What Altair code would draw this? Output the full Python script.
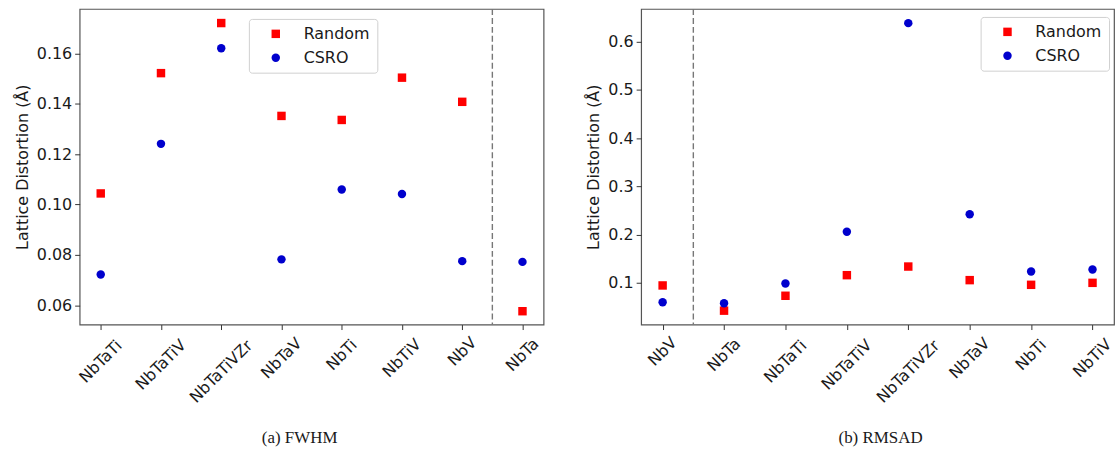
import altair as alt
import pandas as pd

# FWHM panel
cats_a = ["NbTaTi", "NbTaTiV", "NbTaTiVZr", "NbTaV", "NbTi", "NbTiV", "NbV", "NbTa"]
random_a = [0.1044, 0.1522, 0.1721, 0.1352, 0.1336, 0.1504, 0.1408, 0.0576]
csro_a = [0.0722, 0.1241, 0.1621, 0.0782, 0.1060, 0.1042, 0.0775, 0.0772]
yticks_a = [0.06, 0.08, 0.10, 0.12, 0.14, 0.16]

# RMSAD panel
cats_b = ["NbV", "NbTa", "NbTaTi", "NbTaTiV", "NbTaTiVZr", "NbTaV", "NbTi", "NbTiV"]
random_b = [0.0946, 0.0423, 0.0732, 0.1159, 0.1338, 0.1056, 0.0959, 0.1000]
csro_b = [0.0596, 0.0575, 0.0988, 0.2059, 0.6386, 0.2422, 0.1235, 0.1276]
yticks_b = [0.1, 0.2, 0.3, 0.4, 0.5, 0.6]

series = ["Random", "CSRO"]
colors = ["#ff0000", "#0000cd"]
shapes = ["square", "circle"]

FONT = "DejaVu Sans"
TEXT = "#1a1a1a"
H = 317


def panel(cats, rnd, csro, ydom, yticks, yfmt, divider, lx, ly, width, caption, cap_dx):
    rows = []
    for i, c in enumerate(cats):
        rows.append({"cat": c, "idx": i, "series": "Random", "value": rnd[i]})
        rows.append({"cat": c, "idx": i, "series": "CSRO", "value": csro[i]})
    df = pd.DataFrame(rows)
    xscale = alt.Scale(domain=[-0.35, len(cats) - 0.65], nice=False, zero=False)
    xaxis = alt.Axis(values=list(range(len(cats))), labels=False, title=None,
                     grid=False, domain=False, tickSize=5, tickColor="#333333")

    legend = alt.Legend(title=None, orient="none", legendX=lx, legendY=ly,
                        fillColor="white", strokeColor="#d0d0d0", cornerRadius=3,
                        padding=7, labelFont=FONT, labelFontSize=16, labelColor=TEXT,
                        symbolSize=72, symbolOffset=12, labelOffset=20,
                        rowPadding=8, symbolStrokeWidth=0, labelLimit=200)

    pts = alt.Chart(df).mark_point(filled=True, size=72, opacity=1).encode(
        x=alt.X("idx:Q", scale=xscale, axis=xaxis),
        y=alt.Y("value:Q",
                scale=alt.Scale(domain=ydom, nice=False, zero=False),
                axis=alt.Axis(values=yticks, format=yfmt, grid=False, domain=False,
                              tickSize=5, tickColor="#333333",
                              labelFont=FONT, labelFontSize=16, labelColor=TEXT,
                              labelPadding=3, title="Lattice Distortion (Å)",
                              titleFont=FONT, titleFontSize=16,
                              titleFontWeight="normal", titleColor=TEXT,
                              titlePadding=6)),
        color=alt.Color("series:N", scale=alt.Scale(domain=series, range=colors),
                        legend=legend),
        shape=alt.Shape("series:N", scale=alt.Scale(domain=series, range=shapes),
                        legend=legend),
    )

    rule = alt.Chart(pd.DataFrame({"d": [divider]})).mark_rule(
        color="#777777", strokeWidth=1.4, strokeDash=[6, 3]
    ).encode(x=alt.X("d:Q", scale=xscale))

    # rotated category labels, centred under each tick
    labels = alt.Chart(pd.DataFrame({"cat": cats, "idx": list(range(len(cats)))})).transform_calculate(
        ly=f"{H} + 12 + (length(datum.cat) * 9.4 + 15) * 0.3536"
    ).mark_text(angle=315, align="center", baseline="middle", font=FONT,
                fontSize=16, color=TEXT).encode(
        x=alt.X("idx:Q", scale=xscale),
        y=alt.Y("ly:Q", scale=None, axis=None),
        text="cat:N",
    )

    return alt.layer(pts, rule, labels).resolve_scale(y="independent").properties(
        width=width, height=H,
        title=alt.TitleParams(caption, orient="bottom", anchor="middle",
                              font="Liberation Serif", fontSize=17,
                              fontWeight="normal", color=TEXT, dx=cap_dx, offset=24),
    )


left = panel(cats_a, random_a, csro_a, [0.0523, 0.1777], yticks_a, ".2f",
             6.5, 170, 10, 466, "(a) FWHM", -12)
right = panel(cats_b, random_b, csro_b, [0.0135, 0.668], yticks_b, ".1f",
              0.5, 341, 8, 475, "(b) RMSAD", 3)

chart = alt.hconcat(left, right, spacing=40).resolve_scale(
    color="independent", shape="independent"
).properties(
    padding={"left": 13, "top": 6, "right": 2, "bottom": 0},
    background="white",
).configure_view(stroke="#555555", strokeWidth=1.2)

chart.save("out.html", embed_options={"renderer": "svg", "actions": False})
